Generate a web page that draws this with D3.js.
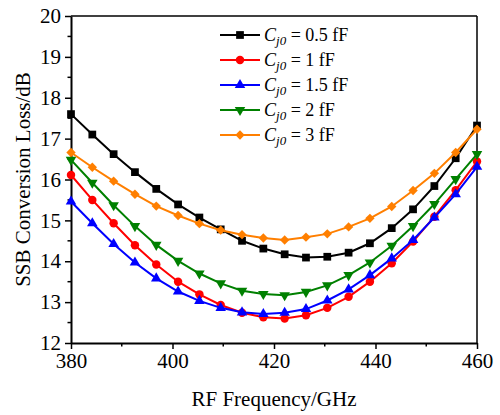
<!DOCTYPE html>
<html><head><meta charset="utf-8">
<script src="https://cdn.jsdelivr.net/npm/d3@7"></script>
<style>body{margin:0;background:#fff}svg{display:block}text{font-family:"Liberation Serif","Times New Roman",serif;fill:#000}</style>
</head><body>
<svg id="c" width="500" height="415"></svg>
<script>
const freqs = [380, 384.2, 388.4, 392.6, 396.8, 401.1, 405.3, 409.5, 413.7, 417.9, 422.1, 426.3, 430.5, 434.7, 438.9, 443.2, 447.4, 451.6, 455.8, 460];
const loss05 = [17.60, 17.10, 16.62, 16.18, 15.77, 15.39, 15.07, 14.78, 14.50, 14.31, 14.17, 14.09, 14.11, 14.21, 14.44, 14.81, 15.27, 15.84, 16.52, 17.32];
const loss1  = [16.11, 15.50, 14.93, 14.39, 13.92, 13.50, 13.19, 12.93, 12.74, 12.63, 12.60, 12.68, 12.86, 13.13, 13.50, 13.95, 14.48, 15.09, 15.74, 16.44];
const loss15 = [15.46, 14.93, 14.42, 13.97, 13.58, 13.26, 13.03, 12.86, 12.75, 12.71, 12.74, 12.83, 13.04, 13.31, 13.66, 14.07, 14.52, 15.07, 15.64, 16.31];
const loss2  = [16.48, 15.92, 15.37, 14.86, 14.40, 14.01, 13.70, 13.46, 13.28, 13.20, 13.17, 13.25, 13.41, 13.66, 13.97, 14.38, 14.86, 15.40, 16.01, 16.62];
const loss3  = [16.66, 16.30, 15.96, 15.64, 15.35, 15.12, 14.92, 14.76, 14.65, 14.57, 14.52, 14.59, 14.67, 14.84, 15.05, 15.34, 15.73, 16.15, 16.66, 17.23];
const seriesLabels = ["0.5 fF", "1 fF", "1.5 fF", "2 fF", "3 fF"];
const xTicks = [380, 400, 420, 440, 460];
const yTicks = [12, 13, 14, 15, 16, 17, 18, 19, 20];

const colors = ["#000000", "#ff0000", "#0000ff", "#008000", "#ff7f00"];
const shapes = [
  {t: d3.symbolSquare, s: 60, r: 0},
  {t: d3.symbolCircle, s: 56, r: 0},
  {t: d3.symbolTriangle, s: 48, r: 0},
  {t: d3.symbolTriangle, s: 48, r: 180},
  {t: d3.symbolSquare, s: 44, r: 45}
];
const series = [loss05, loss1, loss15, loss2, loss3].map((v, i) => ({
  label: seriesLabels[i], color: colors[i], shape: shapes[i],
  pts: v.map((y, j) => ({x: freqs[j], y}))
}));

const svg = d3.select("#c");
const L = 71, R = 477, T = 16, B = 343;
const x = d3.scaleLinear().domain([380, 460]).range([L, R]);
const y = d3.scaleLinear().domain([12, 20]).range([B, T]);

// frame top/right
svg.append("line").attr("x1", L).attr("x2", R).attr("y1", T).attr("y2", T).attr("stroke", "#000").attr("stroke-width", 1.5);
svg.append("line").attr("x1", R).attr("x2", R).attr("y1", T).attr("y2", B).attr("stroke", "#000").attr("stroke-width", 1.5);

// minor ticks
const xMinor = d3.range(390, 460, 20);
const yMinor = d3.range(12.5, 20, 1);
svg.append("g").selectAll("line").data(xMinor).join("line")
  .attr("x1", d => x(d)).attr("x2", d => x(d)).attr("y1", B).attr("y2", B + 3.5)
  .attr("stroke", "#000").attr("stroke-width", 1.5);
svg.append("g").selectAll("line").data(yMinor).join("line")
  .attr("y1", d => y(d)).attr("y2", d => y(d)).attr("x1", L).attr("x2", L - 3.5)
  .attr("stroke", "#000").attr("stroke-width", 1.5);

const xAxis = svg.append("g").attr("transform", `translate(0,${B})`)
  .call(d3.axisBottom(x).tickValues(xTicks).tickSize(6).tickSizeOuter(0).tickPadding(4));
const yAxis = svg.append("g").attr("transform", `translate(${L},0)`)
  .call(d3.axisLeft(y).tickValues(yTicks).tickSize(6).tickSizeOuter(0).tickPadding(4));
[xAxis, yAxis].forEach(a => {
  a.select(".domain").attr("stroke-width", 2);
  a.selectAll(".tick line").attr("stroke-width", 1.5);
  a.selectAll("text").style("font-size", "21px").style("font-family", '"Liberation Serif", serif');
});

// lines and markers
const line = d3.line().x(d => x(d.x)).y(d => y(d.y));
series.forEach(s => {
  const g = svg.append("g");
  g.append("path").datum(s.pts).attr("d", line).attr("fill", "none")
    .attr("stroke", s.color).attr("stroke-width", 2);
  g.selectAll("path.m").data(s.pts).join("path").attr("class", "m")
    .attr("d", d3.symbol().type(s.shape.t).size(s.shape.s))
    .attr("transform", d => `translate(${x(d.x)},${y(d.y)}) rotate(${s.shape.r})`)
    .attr("fill", s.color);
});

// titles
svg.append("text").attr("x", (L + R) / 2).attr("y", 406).attr("text-anchor", "middle")
  .style("font-size", "21px").text("RF Frequency/GHz");
svg.append("text").attr("transform", `translate(30,${(T + B) / 2}) rotate(-90)`).attr("text-anchor", "middle")
  .style("font-size", "21px").text("SSB Conversion Loss/dB");

// legend
const lg = svg.append("g");
series.forEach((s, i) => {
  const yy = 35 + i * 25;
  lg.append("line").attr("x1", 220).attr("x2", 260).attr("y1", yy).attr("y2", yy)
    .attr("stroke", s.color).attr("stroke-width", 2);
  lg.append("path").attr("d", d3.symbol().type(s.shape.t).size(s.shape.s))
    .attr("transform", `translate(240,${yy}) rotate(${s.shape.r})`).attr("fill", s.color);
  const t = lg.append("text").attr("x", 264).attr("y", yy + 6).style("font-size", "18px");
  t.append("tspan").style("font-style", "italic").text("C");
  t.append("tspan").style("font-style", "italic").style("font-size", "13px").attr("dy", 4).text("j0");
  t.append("tspan").attr("dy", -4).text(" = " + s.label);
});
</script>
</body></html>
